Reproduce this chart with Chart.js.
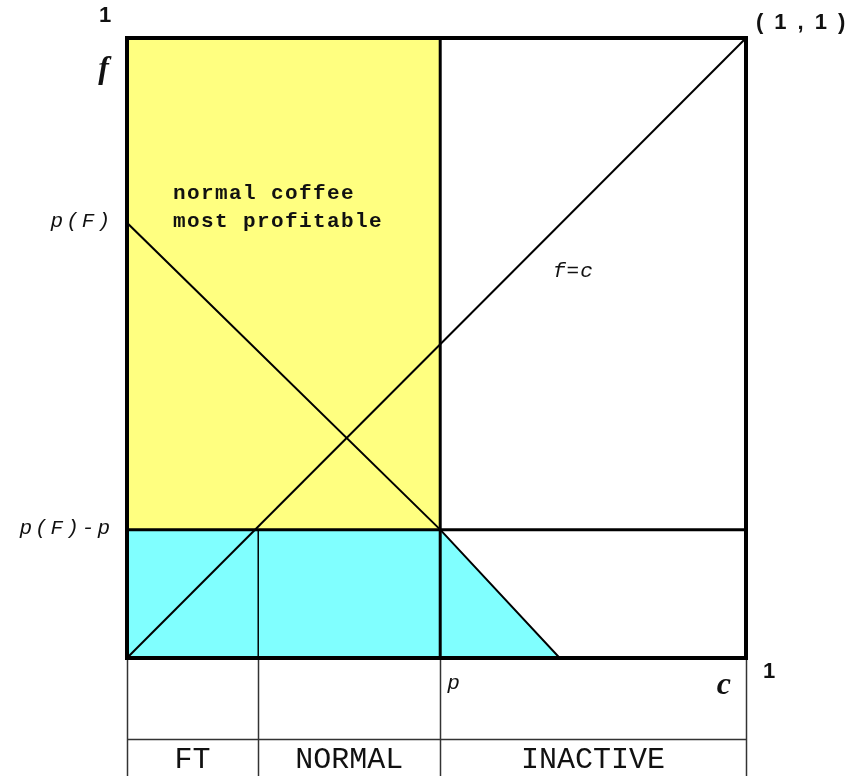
<!DOCTYPE html>
<html>
<head>
<meta charset="utf-8">
<script src="https://cdn.jsdelivr.net/npm/chart.js@4/dist/chart.umd.min.js"></script>
<style>
  html, body { margin: 0; padding: 0; background: #fff; }
  canvas { display: block; }
</style>
</head>
<body>
<canvas id="coffee" width="856" height="776"></canvas>
<script>
'use strict';

// c boundaries between the three regions, and their names
var cBounds = [0, 0.212, 0.506, 1];
var regionNames = ['FT', 'NORMAL', 'INACTIVE'];

// horizontal levels on the f axis
var fLevels = [0.207, 0.702];
var fLevelNames = ['p(F)-p', 'p(F)'];

// f = c diagonal
var diagC = [0, 1];
var diagF = [0, 1];

// downward sloping line from p(F)
var slopeC = [0, 0.506, 0.699];
var slopeF = [0.702, 0.207, 0];

function pts(xs, ys) {
  return xs.map(function(x, i) { return {x: x, y: ys[i]}; });
}

var INK = '#111';

// everything that is not a dataset: box, table under the chart, text
var decor = {
  id: 'decor',
  afterDatasetsDraw: function(chart) {
    var ctx = chart.ctx;
    var a = chart.chartArea;
    var xs = chart.scales.x, ys = chart.scales.y;
    var H = chart.height;
    ctx.save();

    // table under the plot
    ctx.strokeStyle = '#333';
    ctx.lineWidth = 1.5;
    cBounds.forEach(function(c) {
      var x = Math.round(xs.getPixelForValue(c)) + 0.5;
      ctx.beginPath();
      ctx.moveTo(x, a.bottom);
      ctx.lineTo(x, H);
      ctx.stroke();
    });
    ctx.beginPath();
    ctx.moveTo(xs.getPixelForValue(0), 739.5);
    ctx.lineTo(xs.getPixelForValue(1), 739.5);
    ctx.stroke();

    // thick frame
    ctx.strokeStyle = '#000';
    ctx.lineWidth = 4;
    ctx.strokeRect(a.left, a.top, a.right - a.left, a.bottom - a.top);

    ctx.fillStyle = INK;
    ctx.textBaseline = 'middle';

    // region names
    ctx.font = '30px "Liberation Mono", monospace';
    ctx.textAlign = 'center';
    regionNames.forEach(function(n, i) {
      var x = (xs.getPixelForValue(cBounds[i]) + xs.getPixelForValue(cBounds[i + 1])) / 2;
      ctx.fillText(n, x, 760);
    });

    // f level labels
    ctx.font = 'italic 21px "Liberation Mono", monospace';
    ctx.textAlign = 'right';
    ctx.letterSpacing = '3px';
    fLevelNames.forEach(function(n, i) {
      ctx.fillText(n, a.left - 14, ys.getPixelForValue(fLevels[i]) - 1);
    });
    ctx.letterSpacing = '0px';

    // p under the plot
    ctx.textAlign = 'left';
    ctx.fillText('p', xs.getPixelForValue(cBounds[2]) + 7, 683);

    // f=c
    ctx.letterSpacing = '1px';
    ctx.fillText('f=c', 553, 271);

    // region note
    ctx.font = 'bold 21px "Liberation Mono", monospace';
    ctx.letterSpacing = '1.4px';
    ctx.fillText('normal coffee', 173, 194);
    ctx.fillText('most profitable', 173, 222);
    ctx.letterSpacing = '0px';

    // axis letters
    ctx.font = 'bold italic 32px "Liberation Serif", serif';
    ctx.textAlign = 'right';
    ctx.fillText('f', 109, 70);
    ctx.fillText('c', 731, 686);

    // ones
    ctx.font = 'bold 22px "Liberation Sans", Arial, sans-serif';
    ctx.textAlign = 'center';
    ctx.fillText('1', 105, 16);
    ctx.fillText('1', 769, 672);
    ctx.textAlign = 'left';
    ctx.letterSpacing = '11px';
    ctx.fillText('(1,1)', 756, 23);
    ctx.letterSpacing = '0px';

    ctx.restore();
  }
};

var lineDs = function(data, width) {
  return {
    data: data,
    showLine: true,
    borderColor: '#000',
    borderWidth: width,
    pointRadius: 0,
    fill: false,
    tension: 0
  };
};

var ctx = document.getElementById('coffee').getContext('2d');
var chart = new Chart(ctx, {
  type: 'scatter',
  data: {
    datasets: [
      lineDs(pts(diagC, diagF), 2),
      lineDs(pts(slopeC, slopeF), 2),
      lineDs(pts([0, 1], [fLevels[0], fLevels[0]]), 3),
      lineDs(pts([cBounds[2], cBounds[2]], [0, 1]), 3),
      lineDs(pts([cBounds[1], cBounds[1]], [0, fLevels[0]]), 1.5),
      {
        // cyan area under p(F)-p and under the sloping line
        data: pts([0, cBounds[2], slopeC[2]], [fLevels[0], fLevels[0], 0]),
        showLine: true,
        borderWidth: 0,
        pointRadius: 0,
        backgroundColor: '#80ffff',
        fill: 'origin'
      },
      {
        // yellow: normal coffee most profitable
        data: pts([0, cBounds[2]], [1, 1]),
        showLine: true,
        borderWidth: 0,
        pointRadius: 0,
        backgroundColor: '#ffff80',
        fill: {value: fLevels[0]}
      }
    ]
  },
  options: {
    responsive: false,
    devicePixelRatio: 1,
    animation: false,
    layout: {padding: {left: 127, top: 38, right: 110, bottom: 118}},
    scales: {
      x: {type: 'linear', min: 0, max: 1, display: false},
      y: {type: 'linear', min: 0, max: 1, display: false}
    },
    plugins: {
      legend: {display: false},
      tooltip: {enabled: false}
    }
  },
  plugins: [decor]
});
</script>
</body>
</html>
